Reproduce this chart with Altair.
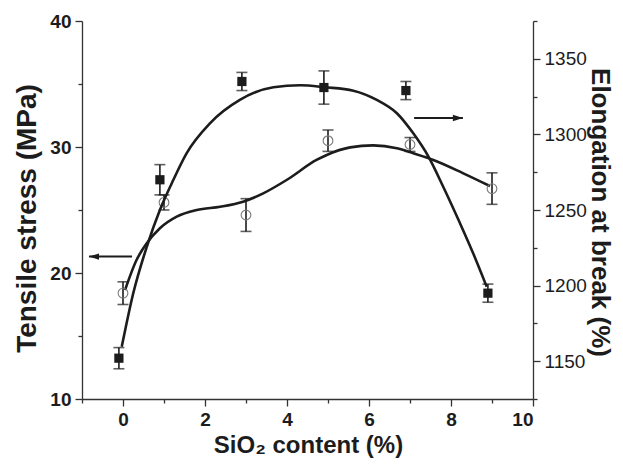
import altair as alt
import pandas as pd

# ---- Tensile stress (open circles, left axis) ----
t_x = [0, 1, 3, 5, 7, 9]
t_val = [18.4, 25.6, 24.6, 30.5, 30.2, 26.7]
t_err = [0.9, 0.6, 1.3, 0.85, 0.55, 1.25]

# ---- Elongation at break (filled squares, right axis) ----
e_x = [-0.1, 0.9, 2.9, 4.9, 6.9, 8.9]
e_val = [1152, 1270, 1335, 1331, 1329, 1195]
e_err = [7, 10, 6, 11, 6, 6]

# ---- fitted curves ----
tc_x = [0.05, 0.33, 0.58, 0.90, 1.31, 1.80, 2.37, 2.93, 3.42, 3.99, 4.72, 4.97,
        5.54, 6.10, 6.68, 7.08, 7.57, 8.30, 8.95]
tc_y = [18.65, 21.03, 22.36, 23.55, 24.47, 25.0, 25.26, 25.66, 26.32, 27.38, 28.97,
        29.37, 29.97, 30.13, 29.9, 29.5, 28.97, 27.91, 26.9]

ec_x = [-0.03, 0.25, 0.58, 0.90, 1.19, 1.55, 2.12, 2.85, 3.67, 4.32, 4.93, 5.62,
        6.19, 6.68, 7.08, 7.45, 7.81, 8.22, 8.54, 8.87]
ec_y = [1159.6, 1194.9, 1225.7, 1250, 1267.7, 1287.5, 1307.3, 1322.8, 1331.2, 1332.5,
        1331.2, 1328.9, 1322.8, 1314, 1300.7, 1285.3, 1265.4, 1241.2, 1221.4, 1199.3]

# ---- arrows (annotation), in data units ----
la_x = [0.22, -0.83]   # left arrow, points to left axis
la_y = [21.3]
ra_x = [7.1, 8.29]     # right arrow, points to right axis
ra_y = [1310.8]

t_df = pd.DataFrame({"x": t_x, "v": t_val,
                     "lo": [v - e for v, e in zip(t_val, t_err)],
                     "hi": [v + e for v, e in zip(t_val, t_err)]})
e_df = pd.DataFrame({"x": e_x, "v": e_val,
                     "lo": [v - e for v, e in zip(e_val, e_err)],
                     "hi": [v + e for v, e in zip(e_val, e_err)]})
tc_df = pd.DataFrame({"x": tc_x, "v": tc_y})
ec_df = pd.DataFrame({"x": ec_x, "v": ec_y})
la_df = pd.DataFrame({"x": [la_x[0]], "x2": [la_x[1]], "v": la_y})
ra_df = pd.DataFrame({"x": [ra_x[0]], "x2": [ra_x[1]], "v": ra_y})
lh_df = pd.DataFrame({"x": [la_x[1]], "v": la_y})
rh_df = pd.DataFrame({"x": [ra_x[1]], "v": ra_y})

INK = "#1c1c1c"
FONT = "Liberation Sans"

x_scale = alt.Scale(domain=[-1, 10], nice=False, zero=False)
x_axis = alt.Axis(
    values=list(range(-1, 11)), format="d",
    labelExpr="(datum.value % 2 == 0 && datum.value >= 0) ? datum.label : ''",
    tickSize={"condition": {"test": "datum.value % 2 != 0", "value": 4}, "value": 7},
    labelFontWeight="bold", labelFontSize=19, labelPadding=4,
    title="SiO₂ content (%)", titleFontSize=24, titleFontWeight="bold",
    titleX=226, titleY=46, titleAngle=0, titleAlign="center", titleBaseline="middle",
    grid=False,
)
X = alt.X("x:Q", scale=x_scale, axis=x_axis)

yl_scale = alt.Scale(domain=[10, 40], nice=False, zero=False)
yl_axis = alt.Axis(
    orient="left", format="d",
    values=list(range(10, 41, 5)),
    labelExpr="datum.value % 10 == 0 ? datum.label : ''",
    tickSize={"condition": {"test": "datum.value % 10 != 0", "value": 4}, "value": 7},
    labelFontWeight="bold", labelFontSize=19, labelPadding=4,
    title="Tensile stress (MPa)", titleFontSize=28, titleFontWeight="bold",
    titleX=-55, titleY=197, titleAngle=270, titleAlign="center", titleBaseline="middle",
    grid=False,
)
yr_scale = alt.Scale(domain=[1125, 1375], nice=False, zero=False)
yr_axis = alt.Axis(
    orient="right", format="d",
    values=list(range(1125, 1376, 25)),
    labelExpr="datum.value % 50 == 0 ? datum.label : ''",
    tickSize={"condition": {"test": "datum.value % 50 != 0", "value": 4}, "value": 7},
    labelFontWeight="normal", labelFontSize=19, labelPadding=4,
    title="Elongation at break (%)", titleFontSize=26, titleFontWeight="bold",
    titleX=66, titleY=191, titleAngle=90, titleAlign="center", titleBaseline="middle",
    grid=False,
)

YL = alt.Y("v:Q", scale=yl_scale, axis=yl_axis)
YR = alt.Y("v:Q", scale=yr_scale, axis=yr_axis)

# tensile layers
t_line = alt.Chart(tc_df).mark_line(interpolate="monotone", color=INK, strokeWidth=2.6).encode(x=X, y=YL)
t_err_c = alt.Chart(t_df).mark_errorbar(ticks=True, size=11, thickness=1.6, color=INK).encode(
    x=X, y=alt.Y("lo:Q", scale=yl_scale, axis=yl_axis), y2="hi:Q")
t_pts = alt.Chart(t_df).mark_point(shape="circle", filled=False, size=95, stroke="#7a7a7a",
                                   strokeWidth=1.1, opacity=1).encode(x=X, y=YL)
l_arrow = alt.Chart(la_df).mark_rule(color=INK, strokeWidth=2).encode(x=X, x2="x2:Q", y=YL)
l_head = alt.Chart(lh_df).mark_point(shape="M0,0 L1,-0.32 L1,0.32 Z", size=400, filled=True,
                                      color=INK, opacity=1).encode(x=X, y=YL)
A = alt.layer(t_line, t_err_c, t_pts, l_arrow, l_head)

# elongation layers
e_line = alt.Chart(ec_df).mark_line(interpolate="monotone", color=INK, strokeWidth=2.6).encode(x=X, y=YR)
e_err_c = alt.Chart(e_df).mark_errorbar(ticks=True, size=11, thickness=1.6, color=INK).encode(
    x=X, y=alt.Y("lo:Q", scale=yr_scale, axis=yr_axis), y2="hi:Q")
e_pts = alt.Chart(e_df).mark_square(size=85, color=INK, opacity=1).encode(x=X, y=YR)
r_arrow = alt.Chart(ra_df).mark_rule(color=INK, strokeWidth=2).encode(x=X, x2="x2:Q", y=YR)
r_head = alt.Chart(rh_df).mark_point(shape="M0,0 L-1,-0.32 L-1,0.32 Z", size=400, filled=True,
                                      color=INK, opacity=1).encode(x=X, y=YR)
B = alt.layer(e_line, e_err_c, e_pts, r_arrow, r_head)

chart = alt.layer(A, B).resolve_scale(y="independent").properties(
    width=451, height=378,
    autosize=alt.AutoSizeParams(type="none"),
    padding={"left": 74, "top": 13, "right": 82, "bottom": 60},
).configure_view(stroke=None).configure_axis(
    domainColor="#333", domainWidth=1.3, tickColor="#333", tickWidth=1.3,
    labelColor=INK, titleColor=INK, labelFont=FONT, titleFont=FONT,
)

chart.save("out.html", embed_options={"renderer": "svg", "actions": False})
